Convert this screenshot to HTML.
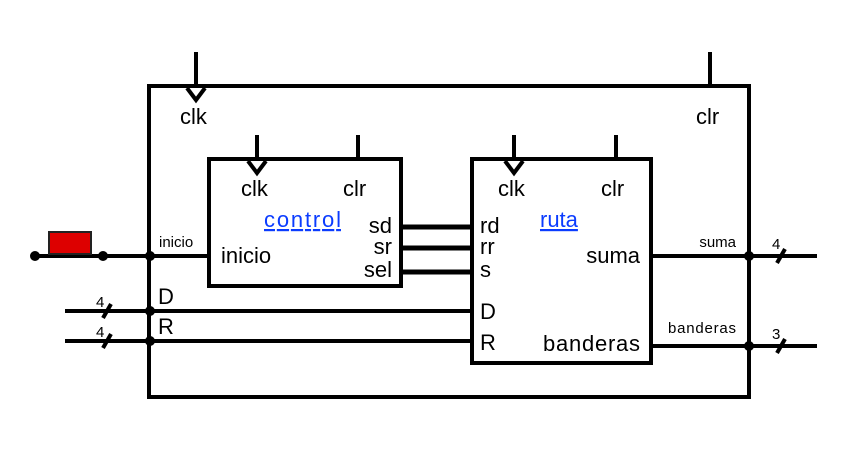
<!DOCTYPE html><html><head><style>body{margin:0;background:#fff}</style></head><body>
<svg width="850" height="460" xmlns="http://www.w3.org/2000/svg" font-family="Liberation Sans, sans-serif">
<g stroke="#000" stroke-width="4" fill="none">
<rect x="149" y="86" width="600" height="311"/>
<rect x="209" y="159" width="192" height="127"/>
<rect x="472" y="159" width="179" height="204"/>
<line x1="196" y1="52" x2="196" y2="86"/><polyline points="187,88 196,100 205,88"/>
<line x1="710" y1="52" x2="710" y2="86"/>
<line x1="257" y1="135" x2="257" y2="159"/><polyline points="248,161 257,173 266,161"/>
<line x1="358" y1="135" x2="358" y2="159"/>
<line x1="514" y1="135" x2="514" y2="159"/><polyline points="505,161 514,173 523,161"/>
<line x1="616" y1="135" x2="616" y2="159"/>
<line x1="35" y1="256" x2="209" y2="256"/>
<line x1="65" y1="311" x2="472" y2="311"/>
<line x1="65" y1="341" x2="472" y2="341"/>
<line x1="401" y1="227" x2="472" y2="227" stroke-width="5"/>
<line x1="401" y1="248" x2="472" y2="248" stroke-width="5"/>
<line x1="401" y1="272" x2="472" y2="272" stroke-width="5"/>
<line x1="651" y1="256" x2="817" y2="256"/>
<line x1="651" y1="346" x2="817" y2="346"/>
<line x1="103" y1="318" x2="111" y2="304"/>
<line x1="103" y1="348" x2="111" y2="334"/>
<line x1="777" y1="263" x2="785" y2="249"/>
<line x1="777" y1="353" x2="785" y2="339"/>
</g>
<rect x="49" y="232" width="42" height="22" fill="#d00" stroke="#222" stroke-width="2"/>
<g fill="#000">
<circle cx="35" cy="256" r="5"/><circle cx="103" cy="256" r="5"/><circle cx="150" cy="256" r="5"/>
<circle cx="150" cy="311" r="5"/><circle cx="150" cy="341" r="5"/>
<circle cx="749" cy="256" r="5"/><circle cx="749" cy="346" r="5"/>
</g>
<g font-size="22" fill="#000">
<text x="180" y="124">clk</text><text x="696" y="124">clr</text>
<text x="241" y="196">clk</text><text x="343" y="196">clr</text>
<text x="498" y="196">clk</text><text x="601" y="196">clr</text>
<text x="264" y="227" fill="#0b3cff" text-decoration="underline" textLength="77">control</text>
<text x="540" y="227" fill="#0b3cff" text-decoration="underline">ruta</text>
<text x="221" y="263">inicio</text>
<text x="392" y="233" text-anchor="end">sd</text>
<text x="392" y="254" text-anchor="end">sr</text>
<text x="392" y="277" text-anchor="end">sel</text>
<text x="480" y="233">rd</text><text x="480" y="254">rr</text><text x="480" y="277">s</text>
<text x="480" y="319">D</text><text x="480" y="350">R</text>
<text x="640" y="263" text-anchor="end">suma</text>
<text x="640" y="351" text-anchor="end" textLength="97">banderas</text>
<text x="158" y="304">D</text><text x="158" y="334">R</text>
</g>
<g font-size="15" fill="#000">
<text x="159" y="247">inicio</text>
<text x="736" y="247" text-anchor="end">suma</text>
<text x="736" y="333" text-anchor="end" textLength="68">banderas</text>
<text x="96" y="307">4</text><text x="96" y="337">4</text>
<text x="772" y="249">4</text><text x="772" y="339">3</text>
</g>
</svg></body></html>
